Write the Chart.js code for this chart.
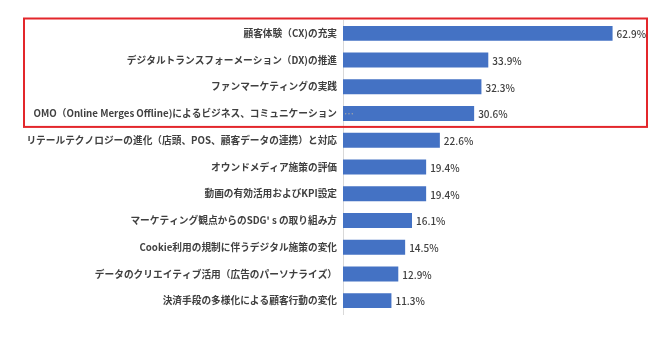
<!DOCTYPE html>
<html>
<head>
<meta charset="utf-8">
<script src="https://cdn.jsdelivr.net/npm/chart.js@4"></script>
<style>
  html, body { margin: 0; padding: 0; background: #fff; }
  #wrap { width: 650px; height: 347px; position: relative; }
</style>
</head>
<body>
<div id="wrap"><canvas id="grafico"></canvas></div>
<script>
// categorias e valores
var temas = [
  "顧客体験（CX)の充実",
  "デジタルトランスフォーメーション（DX)の推進",
  "ファンマーケティングの実践",
  "OMO（Online Merges Offline)によるビジネス、コミュニケーション",
  "リテールテクノロジーの進化（店頭、POS、顧客データの連携）と対応",
  "オウンドメディア施策の評価",
  "動画の有効活用およびKPI設定",
  "マーケティング観点からのSDG' s の取り組み方",
  "Cookie利用の規制に伴うデジタル施策の変化",
  "データのクリエイティブ活用（広告のパーソナライズ）",
  "決済手段の多様化による顧客行動の変化"
];
var percentuais = [62.9, 33.9, 32.3, 30.6, 22.6, 19.4, 19.4, 16.1, 14.5, 12.9, 11.3];
var destaque = [0, 3]; // primeiro e ultimo item dentro do quadro vermelho
var cortado = 3; // rotulo que foi cortado com "…"

var fonte = "'Noto Sans CJK JP', 'Noto Sans', sans-serif";

// rotulos de valor no fim das barras
var rotulos = {
  id: "rotulos",
  afterDatasetsDraw: function (chart) {
    var ctx = chart.ctx;
    var meta = chart.getDatasetMeta(0);
    ctx.save();
    ctx.font = "500 10px " + fonte;
    ctx.fillStyle = "#404040";
    ctx.textAlign = "left";
    ctx.textBaseline = "middle";
    meta.data.forEach(function (bar, i) {
      ctx.fillText(percentuais[i].toFixed(1) + "%", bar.x + 4, bar.y + 1);
    });
    // reticencias do rotulo cortado
    var b = meta.data[cortado];
    ctx.fillStyle = "#a6a6a6";
    ctx.fillText("…", chart.scales.x.getPixelForValue(0) + 1, b.y + 1);
    ctx.restore();
  }
};

// quadro vermelho
var quadro = {
  id: "quadro",
  afterDraw: function (chart) {
    var ctx = chart.ctx;
    var y = chart.scales.y;
    var meio = (y.getPixelForValue(1) - y.getPixelForValue(0)) / 2;
    var topo = y.getPixelForValue(destaque[0]) - meio - 1.5;
    var baixo = y.getPixelForValue(destaque[1]) + meio;
    ctx.save();
    ctx.strokeStyle = "#e3262b";
    ctx.lineWidth = 2;
    ctx.strokeRect(24, topo, chart.width - 27, baixo - topo);
    ctx.restore();
  }
};

var ctx = document.getElementById("grafico");

var myChart = new Chart(ctx, {
  type: "bar",
  data: {
    labels: temas,
    datasets: [
      {
        label: "回答",
        data: percentuais,
        backgroundColor: "#4472c4",
        categoryPercentage: 1,
        barPercentage: 0.56
      }
    ]
  },
  options: {
    indexAxis: "y",
    responsive: true,
    maintainAspectRatio: false,
    animation: false,
    layout: { padding: { top: 20, bottom: 33, left: 0, right: 7 } },
    plugins: {
      legend: { display: false },
      tooltip: { enabled: false }
    },
    scales: {
      x: {
        display: false,
        min: 0,
        max: 70
      },
      y: {
        grid: { display: false, drawTicks: false },
        border: { display: true, color: "#d9d9d9", width: 1 },
        ticks: {
          color: "#404040",
          padding: 6,
          autoSkip: false,
          font: { family: fonte, size: 9.7, weight: "bold" }
        },
        afterFit: function (scale) { scale.width = 343; }
      }
    }
  },
  plugins: [rotulos, quadro]
});
</script>
</body>
</html>
